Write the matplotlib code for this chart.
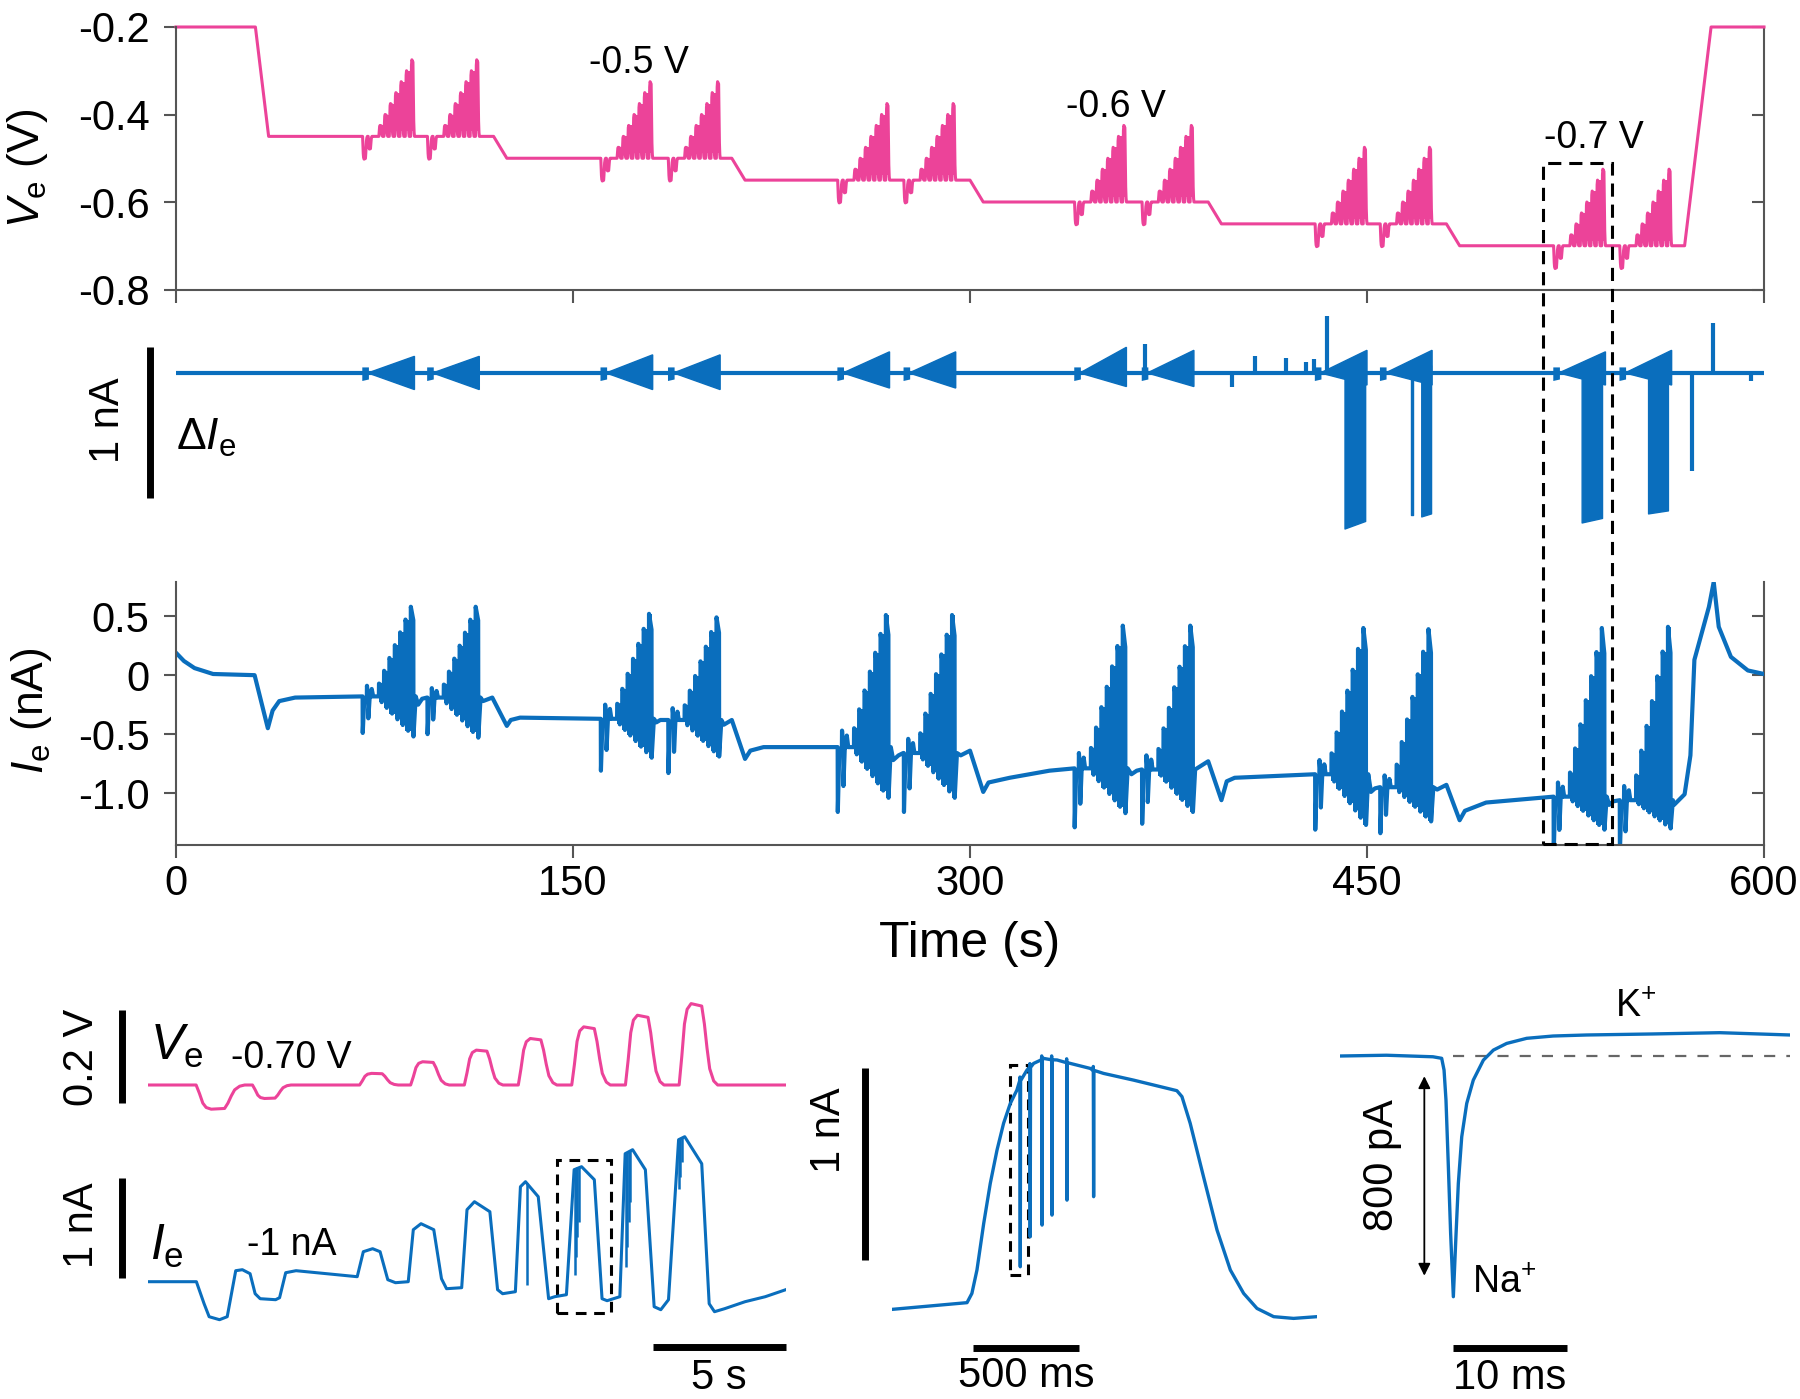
import numpy as np
import matplotlib.pyplot as plt
from matplotlib.patches import Rectangle

plt.rcParams['font.family'] = ['Liberation Sans', 'DejaVu Sans']
plt.rcParams['mathtext.fontset'] = 'custom'
plt.rcParams['mathtext.rm'] = 'Liberation Sans'
plt.rcParams['mathtext.it'] = 'Liberation Sans:italic'
plt.rcParams['axes.unicode_minus'] = False

PINK = '#EC4399'
BLUE = '#0A6EBD'
SPINE = '#555555'
W, H = 1800, 1399

# ---------------- 600 s recording ----------------
# holding voltage (s, V)
hold_t = [0, 30, 35, 120, 125, 210, 215, 300, 305, 390, 395, 480, 485, 570, 580, 600]
hold_v = [-0.2, -0.2, -0.45, -0.45, -0.5, -0.5, -0.55, -0.55, -0.6, -0.6,
          -0.65, -0.65, -0.7, -0.7, -0.2, -0.2]

# pulse trains: onset (s) and holding level (V)
burst_t0 = [70.5, 95, 160.5, 186, 250, 275, 339.5, 365, 430.4, 455, 520.5, 545.5]
burst_lev = [-0.45, -0.45, -0.5, -0.5, -0.55, -0.55, -0.6, -0.6, -0.65, -0.65, -0.7, -0.7]

# stimulus within one train (s after onset, V), read from the -0.70 V zoom
neg_t = [0.0, 2.12]
neg_amp = [-0.052, -0.029]
neg_stretch = [1.26, 1.0]
pos_t = [6.15, 8.07, 10.09, 12.12, 14.13, 16.15, 18.17]
pos_amp = [0.025, 0.05, 0.075, 0.1, 0.125, 0.15, 0.175]
# shape of a single pulse (s, fraction of amplitude)
shape_t = [0, 0.1, 0.2, 0.3, 0.45, 0.85, 0.95, 1.05, 1.15, 1.3, 1.45]
shape_f = [0, 0.35, 0.75, 0.93, 1.0, 0.97, 0.75, 0.45, 0.2, 0.05, 0]

# Ie outside the trains (s, nA)
ie_t = [0, 3, 7, 14, 29.7, 34.7, 36.5, 39, 45, 70.3,
        91.5, 93, 94.8,
        116, 119.5, 125, 126.5, 130, 160.3,
        181.5, 183, 185.8,
        207, 210, 215, 217, 222, 249.8,
        271, 273, 274.8,
        296.5, 300, 305, 307, 315, 330, 339.3,
        361, 363, 364.8,
        386.5, 390, 395, 397, 400, 430.2,
        451.5, 453, 454.8,
        476.5, 480, 485, 487, 495, 520.3,
        541.5, 543, 545.3,
        566, 570, 572.2, 573.7, 579.2, 581, 582.9, 587.5, 593.9, 600]
ie_v = [0.19, 0.12, 0.06, 0.01, 0.0, -0.45, -0.3, -0.22, -0.19, -0.18,
        -0.25, -0.2, -0.19,
        -0.22, -0.19, -0.43, -0.38, -0.36, -0.37,
        -0.40, -0.38, -0.38,
        -0.42, -0.38, -0.71, -0.64, -0.61, -0.61,
        -0.72, -0.68, -0.66,
        -0.68, -0.64, -0.99, -0.91, -0.87, -0.81, -0.79,
        -0.84, -0.81, -0.80,
        -0.78, -0.73, -1.06, -0.90, -0.87, -0.84,
        -0.99, -0.96, -0.95,
        -0.97, -0.93, -1.23, -1.15, -1.08, -1.03,
        -1.10, -1.07, -1.06,
        -1.10, -1.01, -0.68, 0.13, 0.58, 0.79, 0.41, 0.155, 0.04, 0.01]

# Ie during each train: baseline, first dip, rebound, top and bottom of last pulse (nA)
ie_base = [-0.18, -0.19, -0.37, -0.38, -0.61, -0.66, -0.79, -0.80, -0.84, -0.95, -1.03, -1.06]
ie_dip = [-0.49, -0.50, -0.81, -0.83, -1.16, -1.16, -1.29, -1.26, -1.31, -1.34, -1.50, -1.50]
ie_reb = [0.09, 0.08, 0.12, 0.10, 0.14, 0.12, 0.13, 0.12, 0.12, 0.10, 0.12, 0.12]
ie_top = [0.58, 0.58, 0.52, 0.49, 0.51, 0.51, 0.42, 0.42, 0.40, 0.39, 0.40, 0.41]
ie_bot = [-0.52, -0.53, -0.70, -0.69, -1.04, -1.04, -1.17, -1.16, -1.27, -1.24, -1.31, -1.30]

# delta Ie: size of each train's wedge (nA)
di_up = [0.11, 0.11, 0.12, 0.12, 0.14, 0.14, 0.17, 0.15, 0.15, 0.15, 0.14, 0.15]
di_dn = [0.11, 0.11, 0.11, 0.11, 0.10, 0.10, 0.09, 0.09, 0.08, 0.08, 0.08, 0.08]
# deep inward blocks (s, nA)
blk_t0 = [441.5, 466.6, 470.5, 531.1, 556.2]
blk_t1 = [449.3, 467.4, 474.2, 538.8, 563.7]
blk_d0 = [-1.03, -0.94, -0.95, -0.99, -0.93]
blk_d1 = [-0.98, -0.94, -0.93, -0.96, -0.91]
# isolated spikes (s, nA)
spk_t = [366, 399, 407.7, 419.3, 427, 429.9, 434.7, 572.7, 580.9, 595]
spk_v = [0.19, -0.09, 0.11, 0.10, 0.07, 0.09, 0.38, -0.65, 0.33, -0.05]

# dashed window (s, V / nA)
win_t = [516.5, 542.6]
win_v_top = -0.51
win_i_bot = -1.43

# ---------------- zoom A: one -0.70 V train (24 s) ----------------
pa_onset = 1.81
pa_t = [0, 1.82, 2.11, 2.30, 2.69, 2.98, 3.30, 3.55, 3.84, 4.03, 4.22, 4.80, 4.95, 5.18, 5.57, 6.72, 7.87,
        8.10, 8.45, 8.73, 9.02, 9.31, 9.79,
        9.98, 10.27, 10.75, 11.04, 11.23, 11.80,
        12.0, 12.28, 12.86, 13.15, 13.34, 13.82,
        14.01, 14.2, 14.68, 15.07, 15.3, 15.74,
        16.03, 16.31, 16.79, 17.08, 17.27, 17.75,
        17.95, 18.23, 18.71, 19.04, 19.29, 19.58,
        19.96, 20.19, 20.83, 21.11, 21.31, 21.69, 22.46, 23.22, 23.99]
pa_i = [0, 0, -0.22, -0.35, -0.38, -0.35, 0.11, 0.12, 0.08, -0.12, -0.17, -0.18, -0.16, 0.09, 0.11, 0.08, 0.05,
        0.30, 0.33, 0.30, 0.02, -0.01, 0.0,
        0.52, 0.58, 0.52, 0.03, -0.07, -0.06,
        0.72, 0.80, 0.70, -0.08, -0.12, -0.10,
        0.95, 1.00, 0.85, -0.17, -0.15, -0.13,
        1.12, 1.15, 1.02, -0.17, -0.19, -0.15,
        1.28, 1.32, 1.12, -0.25, -0.28, -0.18,
        1.42, 1.45, 1.18, -0.22, -0.30, -0.27, -0.20, -0.15, -0.08]
pa_spk_t = [14.25, 16.05, 16.1, 16.15, 16.2, 17.98, 18.03, 18.08, 18.13, 19.99, 20.03, 20.07]
pa_spk_top = [0.99, 1.13, 1.14, 1.15, 1.15, 1.29, 1.30, 1.31, 1.32, 1.43, 1.44, 1.45]
pa_spk_bot = [-0.03, 0.07, 0.25, 0.45, 0.60, 0.15, 0.35, 0.60, 0.80, 0.93, 1.05, 1.20]
pa_box = [15.4, 17.4, -0.31, 1.22]

# ---------------- zoom B: one pulse (ms, nA) ----------------
pb_t = [0, 355, 378, 402, 434, 465, 497, 528, 560, 591, 615, 639, 670, 718, 781, 844, 938, 1001,
        1143, 1348, 1372, 1411, 1474, 1538, 1601, 1664, 1727, 1806, 1900, 2011]
pb_i = [0, 0.035, 0.083, 0.205, 0.448, 0.656, 0.83, 0.969, 1.073, 1.142, 1.203, 1.247, 1.281, 1.307,
        1.299, 1.281, 1.255, 1.229, 1.194, 1.139, 1.108, 0.969, 0.691, 0.413, 0.205, 0.083, 0.005,
        -0.038, -0.047, -0.038]
pb_spk_t = [607, 654, 710, 757, 828, 954]
pb_spk_top = [1.19, 1.26, 1.30, 1.30, 1.285, 1.245]
pb_spk_bot = [0.222, 0.378, 0.439, 0.491, 0.569, 0.587]
pb_box = [560, 642, 0.179, 1.273]

# ---------------- zoom C: one spike (ms, pA) ----------------
pc_t = [0, 4.1, 8.2, 8.97, 9.18, 9.35, 9.56, 9.76, 10.0, 10.24, 10.44, 10.74, 11.18, 11.76,
        12.65, 13.53, 14.7, 16.47, 18.8, 21.76, 27.6, 33.5, 39.7]
pc_i = [0, 3, -3, -9, -55, -172, -432, -692, -939, -692, -497, -315, -185, -94,
        -16, 23, 49, 69, 78, 82, 86, 91, 82]


def box(x0, y0, x1, y1):
    return [x0 / W, 1 - y1 / H, (x1 - x0) / W, (y1 - y0) / H]


def ftext(x, y, s, **kw):
    fig.text(x / W, 1 - y / H, s, **kw)


def stim_points(t0, base):
    pts = []
    for dt, a, s in zip(neg_t, neg_amp, neg_stretch):
        pts += [(t0 + dt + st * s, base + a * f) for st, f in zip(shape_t, shape_f)]
    for dt, a in zip(pos_t, pos_amp):
        pts += [(t0 + dt + st, base + a * f) for st, f in zip(shape_t, shape_f)]
    return pts


def ie_points(t0, b, dip, reb, top, bot):
    pts = [(t0, b), (t0 + 0.05, dip), (t0 + 0.6, b - 0.04), (t0 + 1.6, b), (t0 + 1.65, b + reb),
           (t0 + 2.05, b), (t0 + 2.12, b), (t0 + 2.17, b + 0.6 * (dip - b)), (t0 + 2.7, b),
           (t0 + 3.4, b), (t0 + 3.45, b + 0.7 * reb), (t0 + 4.0, b)]
    for dt, a in zip(pos_t, pos_amp):
        f = a / pos_amp[-1]
        pts += [(t0 + dt, b), (t0 + dt + 0.05, b + f * (top - b)), (t0 + dt + 1.0, b + 0.85 * f * (top - b)),
                (t0 + dt + 1.05, b + f * (bot - b)), (t0 + dt + 1.9, b)]
    return pts


def bar(ax, xs, ys):
    ax.plot(xs, ys, color='black', lw=5, solid_capstyle='butt', clip_on=False)


fig = plt.figure(figsize=(18, 13.99), dpi=100)
frac = [a / pos_amp[-1] for a in pos_amp]

# ---- Ve panel ----
ax_v = fig.add_axes(box(176, 27, 1764, 289.5))
pts = list(zip(hold_t, hold_v))
for t0, lev in zip(burst_t0, burst_lev):
    pts += stim_points(t0, lev)
    # the train is dense at this scale: shade the stepped envelope
    st = [t0 + d for d in pos_t] + [t0 + pos_t[-1] + 1.0]
    sv = [lev + a for a in pos_amp] + [lev + pos_amp[-1]]
    ax_v.fill_between(st, lev + 0.012, sv, step='post', color=PINK, lw=0)
pts.sort()
tv, vv = zip(*pts)
ax_v.plot(tv, vv, color=PINK, lw=2.2, clip_on=False)
ax_v.set_xlim(0, 600)
ax_v.set_ylim(-0.8, -0.2)

# ---- delta Ie panel ----
ax_d = fig.add_axes(box(176, 300, 1764, 540))
ax_d.axis('off')
ax_d.set_xlim(0, 600)
ax_d.set_ylim(-1.106, 0.483)
ax_d.plot([0, 600], [0, 0], color=BLUE, lw=3)
for t0, up, dn in zip(burst_t0, di_up, di_dn):
    ax_d.fill_between([t0 - 0.3, t0 + 2.2], [-0.05, -0.04], [0.04, 0.04], color=BLUE, lw=0)
    ax_d.fill([t0 + 2.0, t0 + 19.6, t0 + 19.6], [0, up, -dn], color=BLUE, lw=1)
for a, b, d0, d1 in zip(blk_t0, blk_t1, blk_d0, blk_d1):
    ax_d.fill_between([a, b], [d0, d1], [0.05, 0.05], color=BLUE, lw=1)
ax_d.vlines(spk_t, 0, spk_v, color=BLUE, lw=3)

# ---- Ie panel ----
ax_i = fig.add_axes(box(176, 582, 1764, 845))
pts = list(zip(ie_t, ie_v))
for t0, b, dip, reb, top, bot in zip(burst_t0, ie_base, ie_dip, ie_reb, ie_top, ie_bot):
    pts += ie_points(t0, b, dip, reb, top, bot)
    st = [t0 + d for d in pos_t] + [t0 + pos_t[-1] + 1.05]
    up = [b + f * (top - b) for f in frac] + [b + 0.85 * (top - b)]
    lo = [b + f * (bot - b) for f in frac] + [b + (bot - b)]
    ax_i.fill_between(st, lo, up, step='post', color=BLUE, lw=0)
pts.sort()
ti, ii = zip(*pts)
ax_i.plot(ti, ii, color=BLUE, lw=3)
ax_i.set_xlim(0, 600)
ax_i.set_ylim(-1.44, 0.79)

for ax, ticks, labels in [(ax_v, [-0.8, -0.6, -0.4, -0.2], ['-0.8', '-0.6', '-0.4', '-0.2']),
                          (ax_i, [-1.0, -0.5, 0, 0.5], ['-1.0', '-0.5', '0', '0.5'])]:
    ax.spines['top'].set_visible(False)
    ax.spines['right'].set_visible(False)
    for s in ['left', 'bottom']:
        ax.spines[s].set_color(SPINE)
        ax.spines[s].set_linewidth(1.5)
    ax.set_yticks(ticks)
    ax.set_yticklabels(labels)
    ax.set_xticks([0, 150, 300, 450, 600])
    ax.tick_params(direction='out', length=9, width=1.5, color=SPINE, labelsize=30, pad=10)
    sec = ax.secondary_yaxis('right')
    sec.set_yticks(ticks)
    sec.tick_params(direction='in', length=9, width=1.5, color=SPINE, labelright=False)
    sec.spines['right'].set_color(SPINE)
    sec.spines['right'].set_linewidth(1.5)
ax_v.set_xticklabels([])
ax_i.tick_params(axis='x', pad=5)

# dashed window across the three panels
fig.canvas.draw()
inv = fig.transFigure.inverted()
p0 = inv.transform(ax_v.transData.transform((win_t[0], win_v_top)))
p1 = inv.transform(ax_i.transData.transform((win_t[1], win_i_bot)))
fig.add_artist(Rectangle((p0[0], p1[1]), p1[0] - p0[0], p0[1] - p1[1], transform=fig.transFigure,
                         fill=False, ec='black', lw=2.2, ls=(0, (4.3, 2.6))))

ftext(639, 63, '-0.5 V', fontsize=27, ha='center', va='center')
ftext(1116, 107, '-0.6 V', fontsize=27, ha='center', va='center')
ftext(1594, 138, '-0.7 V', fontsize=27, ha='center', va='center')
ftext(27, 168, r'$\mathit{V}_{\mathrm{e}}$ (V)', fontsize=32, rotation=90, ha='center', va='center')
ftext(32, 711, r'$\mathit{I}_{\mathrm{e}}$ (nA)', fontsize=32, rotation=90, ha='center', va='center')
ftext(108, 420, '1 nA', fontsize=30, rotation=90, ha='center', va='center')
ftext(176, 450, r'$\Delta\mathit{I}_{\mathrm{e}}$', fontsize=32, ha='left', va='baseline')
fig.add_artist(plt.Line2D([150 / W, 150 / W], [1 - 347 / H, 1 - 498 / H], color='black', lw=5,
                          solid_capstyle='butt'))
ftext(970, 944, 'Time (s)', fontsize=36, ha='center', va='center')

# ---- zoom A ----
ax_av = fig.add_axes(box(148, 985, 786, 1125))
ax_av.axis('off')
pts = [(0, 0), (24, 0)] + stim_points(pa_onset, 0)
pts.sort()
ta, va = zip(*pts)
ax_av.plot(ta, va, color=PINK, lw=2.2)
ax_av.set_xlim(0, 24)
ax_av.set_ylim(-0.086, 0.215)
bar(ax_av, [-0.98, -0.98], [-0.039, 0.161])

ax_ai = fig.add_axes(box(148, 1130, 786, 1360))
ax_ai.axis('off')
ax_ai.plot(pa_t, pa_i, color=BLUE, lw=2.2)
ax_ai.vlines(pa_spk_t, pa_spk_bot, pa_spk_top, color=BLUE, lw=1.8)
ax_ai.set_xlim(0, 24)
ax_ai.set_ylim(-0.783, 1.517)
bar(ax_ai, [-0.98, -0.98], [0.037, 1.037])
bar(ax_ai, [19, 24], [-0.653, -0.653])
ax_ai.add_patch(Rectangle((pa_box[0], pa_box[2]), pa_box[1] - pa_box[0], pa_box[3] - pa_box[2],
                          fill=False, ec='black', lw=2.2, ls=(0, (3.5, 2.5))))

ftext(82, 1057, '0.2 V', fontsize=30, rotation=90, ha='center', va='center')
ftext(150, 1060, r'$\mathit{V}_{\mathrm{e}}$', fontsize=36, ha='left', va='baseline')
ftext(291, 1058, '-0.70 V', fontsize=27, ha='center', va='center')
ftext(82, 1225, '1 nA', fontsize=30, rotation=90, ha='center', va='center')
ftext(150, 1260, r'$\mathit{I}_{\mathrm{e}}$', fontsize=36, ha='left', va='baseline')
ftext(292, 1245, '-1 nA', fontsize=27, ha='center', va='center')
ftext(719, 1378, '5 s', fontsize=30, ha='center', va='center')

# ---- zoom B ----
ax_b = fig.add_axes(box(892, 1040, 1317, 1400))
ax_b.axis('off')
pts = list(zip(pb_t, pb_i))
for ts, tp, bt in zip(pb_spk_t, pb_spk_top, pb_spk_bot):
    pts += [(ts - 3, tp), (ts - 1.5, tp + 0.02), (ts, bt), (ts + 1.5, tp)]
pts.sort()
tb, ib = zip(*pts)
ax_b.plot(tb, ib, color=BLUE, lw=2.4)
ax_b.set_xlim(0, 2011)
ax_b.set_ylim(-0.472, 1.403)
bar(ax_b, [-126, -126], [0.257, 1.255])
bar(ax_b, [383, 883], [-0.203, -0.203])
ax_b.add_patch(Rectangle((pb_box[0], pb_box[2]), pb_box[1] - pb_box[0], pb_box[3] - pb_box[2],
                         fill=False, ec='black', lw=2.2, ls=(0, (3.5, 2.5))))
ftext(829, 1130, '1 nA', fontsize=30, rotation=90, ha='center', va='center')
ftext(1026, 1376, '500 ms', fontsize=30, ha='center', va='center')

# ---- zoom C ----
ax_c = fig.add_axes(box(1340, 990, 1790, 1400))
ax_c.axis('off')
ax_c.plot([10, 39.85], [0, 0], color='#666666', lw=1.6, ls=(0, (5, 5)))
ax_c.plot(pc_t, pc_i, color=BLUE, lw=2.4)
ax_c.set_xlim(0, 39.7)
ax_c.set_ylim(-1342, 257.5)
ax_c.annotate('', xy=(7.44, -868), xytext=(7.44, -68),
              arrowprops=dict(arrowstyle='<|-|>', lw=1.3, color='black', mutation_scale=18))
bar(ax_c, [10, 20], [-1141, -1141])
ftext(1382, 1165, '800 pA', fontsize=30, rotation=90, ha='center', va='center')
ftext(1472, 1293, r'Na$^{+}$', fontsize=27, ha='left', va='baseline')
ftext(1615, 1017, r'K$^{+}$', fontsize=27, ha='left', va='baseline')
ftext(1510, 1378, '10 ms', fontsize=30, ha='center', va='center')

fig.savefig('out.png', dpi=100)
